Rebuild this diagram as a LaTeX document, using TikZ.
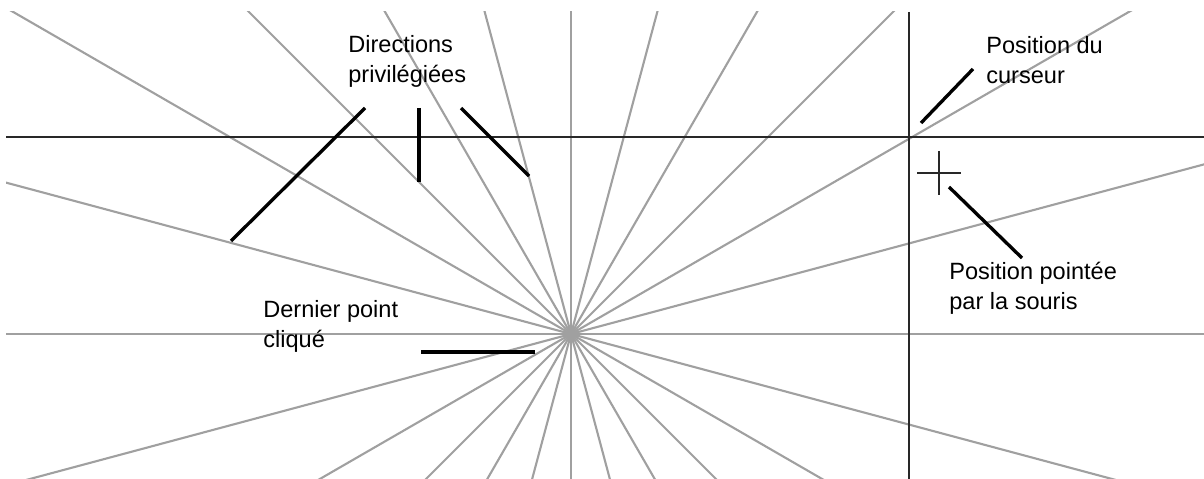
\documentclass[tikz,border=0pt]{standalone}
\usepackage{fontspec}
\setmainfont{Liberation Sans}
\usetikzlibrary{calc}
\definecolor{raygray}{RGB}{160,160,160}
\definecolor{axedark}{RGB}{40,40,40}

\begin{document}
\begin{tikzpicture}[x=0.02cm,y=-0.02cm,
  rayline/.style={raygray,line width=1.2pt},
  axeline/.style={axedark,line width=1.35pt},
  leader/.style={black,line width=1.9pt},
  note/.style={align=left,anchor=west,inner sep=0pt,font=\fontsize{13.4}{17}\selectfont}]
\useasboundingbox (0,0) rectangle (1204,479);
\coordinate (c) at (571,334);
\coordinate (curs) at (909,137);
\coordinate (souris) at (939,173);
% directions privilegiees, tous les 15 degres
\begin{scope}
\clip (6,12) rectangle (1204,479);
\foreach \a in {0,15,...,165}
  \draw[rayline] ($(c)+(\a:900)$) -- ($(c)+(\a+180:900)$);
\end{scope}
% lignes du curseur
\draw[axeline] (6,137) -- (1204,137);
\draw[axeline] (909,12) -- (909,479);
\draw[axeline] ($(souris)+(-22,0)$) -- ($(souris)+(22,0)$);
\draw[axeline] ($(souris)+(0,-22)$) -- ($(souris)+(0,22)$);
% textes
\node[note] (dir) at (348,61) {Directions\\privilégiées};
\node[note] (pos) at (986,60) {Position du\\curseur};
\node[note] (mouse) at (949,288) {Position pointée\\par la souris};
\node[note] (last) at (263,326) {Dernier point\\cliqué};
% traits de rappel
\coordinate (d1a) at (365,108); \coordinate (d1b) at (231,241);
\coordinate (d2a) at (419,108); \coordinate (d2b) at (419,182);
\coordinate (d3a) at (461,108); \coordinate (d3b) at (529,176);
\coordinate (p1) at (973,69);   \coordinate (p2) at (921,123);
\coordinate (m1) at (949,187);  \coordinate (m2) at (1022,258);
\coordinate (l1) at (421,352);  \coordinate (l2) at (535,352);
\draw[leader] (d1a) -- (d1b);
\draw[leader] (d2a) -- (d2b);
\draw[leader] (d3a) -- (d3b);
\draw[leader] (p1) -- (p2);
\draw[leader] (m1) -- (m2);
\draw[leader] (l1) -- (l2);
\end{tikzpicture}
\end{document}
